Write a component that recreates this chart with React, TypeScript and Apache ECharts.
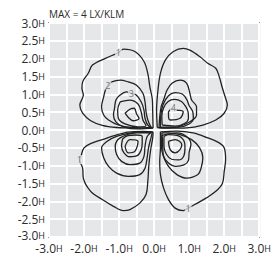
import React, { useEffect, useRef } from "react";
import * as echarts from "echarts";

// Isolux contour lines (x, y in units of H)
const ulC1 = [[-0.03,0.05],[-0.04,0.5],[-0.05,0.85],[-0.12,1.2],[-0.18,1.58],[-0.29,1.92],[-0.55,2.2],[-0.88,2.27],[-1.02,2.17],[-1.39,2.01],[-1.76,1.82],[-1.88,1.59],[-2.04,1.35],[-2.06,1.17],[-2.02,0.98],[-2.12,0.7],[-2.04,0.47],[-1.81,0.26],[-1.48,0.13],[-1.07,0.07],[-0.74,0.06],[-0.3,0.05],[-0.03,0.05]];
const ulC2 = [[-0.09,0.08],[-0.18,0.28],[-0.23,0.51],[-0.26,0.79],[-0.32,1.03],[-0.51,1.26],[-0.74,1.35],[-0.97,1.4],[-1.21,1.35],[-1.32,1.26],[-1.39,1.12],[-1.44,0.93],[-1.5,0.65],[-1.44,0.42],[-1.3,0.28],[-1.02,0.14],[-0.65,0.07],[-0.3,0.06],[-0.09,0.08]];
const ulC3 = [[-0.04,0.05],[-0.18,0.14],[-0.26,0.33],[-0.29,0.56],[-0.37,0.79],[-0.51,0.98],[-0.65,1.03],[-0.79,1.07],[-0.97,0.98],[-1.09,0.84],[-1.13,0.61],[-1.16,0.42],[-1.09,0.23],[-0.88,0.09],[-0.46,0.03],[-0.04,0.05]];
const ulC3b = [[-0.97,0.79],[-1.04,0.56],[-1.02,0.33],[-0.83,0.17],[-0.46,0.09],[-0.23,0.12],[-0.32,0.28],[-0.37,0.51],[-0.46,0.73],[-0.69,0.84],[-0.97,0.79]];
const ulC4 = [[-0.83,0.47],[-0.66,0.6],[-0.57,0.61],[-0.5,0.45],[-0.43,0.32],[-0.6,0.26],[-0.74,0.36],[-0.83,0.47]];

const urC1 = [[0.09,0.07],[0.07,0.56],[0.11,1.12],[0.18,1.59],[0.32,1.96],[0.55,2.2],[0.83,2.29],[1.02,2.24],[1.3,2.06],[1.53,1.87],[1.76,1.73],[1.86,1.49],[1.95,1.17],[2.04,0.89],[2.09,0.7],[2.0,0.47],[1.76,0.28],[1.39,0.14],[0.93,0.06],[0.4,0.05],[0.09,0.07]];
const urC2 = [[0.14,0.07],[0.16,0.37],[0.2,0.65],[0.27,0.84],[0.37,1.12],[0.51,1.31],[0.74,1.4],[0.93,1.31],[1.02,1.03],[1.07,0.84],[1.21,0.65],[1.21,0.42],[1.02,0.23],[0.69,0.09],[0.27,0.06],[0.14,0.07]];
const urC3 = [[0.18,0.08],[0.19,0.4],[0.25,0.7],[0.41,0.96],[0.6,1.05],[0.8,1.01],[0.93,0.86],[1.0,0.68],[1.1,0.52],[1.12,0.33],[1.0,0.17],[0.7,0.08],[0.18,0.08]];
const urC3b = [[0.23,0.14],[0.22,0.4],[0.27,0.62],[0.4,0.8],[0.58,0.86],[0.78,0.8],[0.9,0.66],[0.97,0.5],[0.98,0.33],[0.88,0.19],[0.6,0.11],[0.23,0.14]];
const urC4 = [[0.41,0.51],[0.51,0.6],[0.65,0.56],[0.83,0.51],[0.74,0.33],[0.46,0.28],[0.41,0.4],[0.41,0.51]];

const llC1 = [[-0.03,-0.05],[-0.3,-0.04],[-0.74,-0.06],[-1.11,-0.15],[-1.48,-0.27],[-1.76,-0.36],[-2.0,-0.5],[-2.09,-0.74],[-2.13,-0.83],[-2.04,-1.07],[-2.02,-1.35],[-1.81,-1.72],[-1.48,-1.95],[-1.16,-2.14],[-0.88,-2.26],[-0.69,-2.23],[-0.41,-2.05],[-0.23,-1.81],[-0.18,-1.44],[-0.15,-0.98],[-0.1,-0.56],[-0.04,-0.22],[-0.03,-0.05]];
const llC2 = [[-0.05,-0.06],[-0.27,-0.05],[-0.65,-0.08],[-1.07,-0.18],[-1.35,-0.32],[-1.5,-0.5],[-1.44,-0.78],[-1.3,-1.02],[-1.07,-1.21],[-0.74,-1.3],[-0.41,-1.25],[-0.26,-1.07],[-0.2,-0.78],[-0.16,-0.5],[-0.09,-0.22],[-0.05,-0.06]];
const llC3 = [[-0.08,-0.07],[-0.5,-0.08],[-0.97,-0.22],[-1.11,-0.46],[-1.07,-0.69],[-0.93,-0.88],[-0.69,-0.97],[-0.41,-0.93],[-0.29,-0.74],[-0.26,-0.46],[-0.2,-0.18],[-0.08,-0.07]];
const llC3b = [[-0.9,-0.25],[-0.93,-0.45],[-0.86,-0.64],[-0.7,-0.75],[-0.48,-0.72],[-0.37,-0.56],[-0.34,-0.36],[-0.34,-0.18],[-0.52,-0.14],[-0.75,-0.16],[-0.9,-0.25]];
const llC4 = [[-0.83,-0.46],[-0.69,-0.27],[-0.46,-0.32],[-0.55,-0.6],[-0.74,-0.64],[-0.83,-0.46]];

const lrC1 = [[0.18,-0.05],[0.18,-0.5],[0.16,-0.88],[0.18,-1.25],[0.27,-1.63],[0.41,-1.95],[0.6,-2.19],[0.83,-2.26],[0.97,-2.19],[1.16,-2.09],[1.48,-1.91],[1.76,-1.72],[1.95,-1.49],[2.0,-1.16],[2.04,-0.83],[2.0,-0.5],[1.86,-0.36],[1.53,-0.22],[1.11,-0.08],[0.65,-0.03],[0.18,-0.05]];
const lrC2 = [[0.22,-0.08],[0.24,-0.32],[0.26,-0.69],[0.41,-1.02],[0.65,-1.25],[0.93,-1.35],[1.25,-1.25],[1.34,-1.07],[1.39,-0.78],[1.3,-0.5],[1.07,-0.27],[0.74,-0.13],[0.41,-0.08],[0.22,-0.08]];
const lrC3 = [[0.22,-0.15],[0.21,-0.45],[0.26,-0.72],[0.4,-0.92],[0.62,-1.02],[0.85,-0.98],[0.98,-0.85],[1.0,-0.62],[1.05,-0.4],[0.95,-0.2],[0.65,-0.08],[0.22,-0.15]];
const lrC3b = [[0.28,-0.18],[0.28,-0.45],[0.35,-0.68],[0.5,-0.82],[0.7,-0.84],[0.85,-0.72],[0.88,-0.5],[0.85,-0.3],[0.65,-0.15],[0.4,-0.13],[0.28,-0.18]];
const lrC4 = [[0.41,-0.32],[0.6,-0.27],[0.79,-0.41],[0.74,-0.55],[0.6,-0.64],[0.46,-0.55],[0.41,-0.32]];

const contours = [ulC1, ulC2, ulC3, ulC3b, ulC4, urC1, urC2, urC3, urC3b, urC4, llC1, llC2, llC3, llC3b, llC4, lrC1, lrC2, lrC3, lrC3b, lrC4];

// Contour level labels: [x, y, text]
const levelLabels = [
  [-1.02, 2.17, "1"],
  [-1.32, 1.26, "2"],
  [-0.65, 1.03, "3"],
  [0.55, 0.63, "4"],
  [-2.13, -0.83, "1"],
  [0.97, -2.19, "1"],
];

const titleText = "MAX = 4 LX/KLM";
const axisMin = -3;
const axisMax = 3;
const axisStep = 0.5;

export default function App() {
  const ref = useRef<HTMLDivElement>(null);
  useEffect(() => {
    if (!ref.current) return;
    const chart = echarts.init(ref.current, null, { renderer: "svg" });
    const fmt = (v: number) => `{n|${v.toFixed(1)}}{h|H}`;
    // the lowest y label is lifted a little so it clears the x axis' first label
    const fmtY = (v: number) =>
      v <= axisMin + 1e-6 ? `{nl|${v.toFixed(1)}}{hl|H}` : fmt(v);
    const rich = {
      n: { fontSize: 12, lineHeight: 10, color: "#2b2b2b", fontFamily: "Open Sans" },
      h: { fontSize: 9, lineHeight: 10, color: "#2b2b2b", fontFamily: "Open Sans" },
      nl: { fontSize: 12, lineHeight: 10, color: "#2b2b2b", fontFamily: "Open Sans", padding: [0, 0, 4, 0] },
      hl: { fontSize: 9, lineHeight: 10, color: "#2b2b2b", fontFamily: "Open Sans", padding: [0, 0, 4, 0] },
    };
    const series: any[] = contours.map((pts) => ({
      type: "line",
      data: pts,
      smooth: 0.35,
      showSymbol: false,
      symbol: "none",
      silent: true,
      lineStyle: { color: "#222", width: 1.3 },
    }));
    series.push({
      type: "scatter",
      data: levelLabels.map((l) => ({ value: [l[0], l[1]], name: l[2] })),
      symbolSize: 0,
      silent: true,
      label: {
        show: true,
        position: "inside",
        formatter: (p: any) => p.name,
        fontSize: 8.5,
        lineHeight: 9,
        color: "#555",
        fontFamily: "Open Sans",
        backgroundColor: "#e6e7e8",
        padding: [0, 1],
      },
      z: 5,
    });
    chart.setOption({
      animation: false,
      backgroundColor: "#fff",
      title: {
        text: titleText,
        left: 49,
        top: 8,
        padding: 0,
        textStyle: { fontSize: 10, lineHeight: 12, fontWeight: "normal", color: "#2b2b2b", fontFamily: "Open Sans" },
      },
      grid: {
        left: 49,
        right: 10,
        top: 23,
        bottom: 19,
        show: true,
        backgroundColor: "#e6e7e8",
        borderColor: "#4a4a4a",
        borderWidth: 1.6,
      },
      xAxis: {
        type: "value",
        min: axisMin,
        max: axisMax,
        interval: axisStep,
        axisLine: { show: false },
        axisTick: { show: false },
        splitLine: { show: true, lineStyle: { color: "#fff", width: 2 } },
        axisLabel: {
          margin: 6,
          formatter: (v: number) => (Math.abs(v - Math.round(v)) > 1e-6 ? "" : fmt(v)),
          rich,
          showMinLabel: true,
          showMaxLabel: true,
          hideOverlap: false,
        },
      },
      yAxis: {
        type: "value",
        min: axisMin,
        max: axisMax,
        interval: axisStep,
        axisLine: { show: false },
        axisTick: { show: false },
        splitLine: { show: true, lineStyle: { color: "#fff", width: 2 } },
        axisLabel: { margin: 4, formatter: fmtY, rich, showMinLabel: true, showMaxLabel: true },
      },
      series,
    });
    return () => chart.dispose();
  }, []);
  return (
    <div
      ref={ref}
      style={{ position: "fixed", left: 0, top: 0, width: 274, height: 256 }}
    />
  );
}
